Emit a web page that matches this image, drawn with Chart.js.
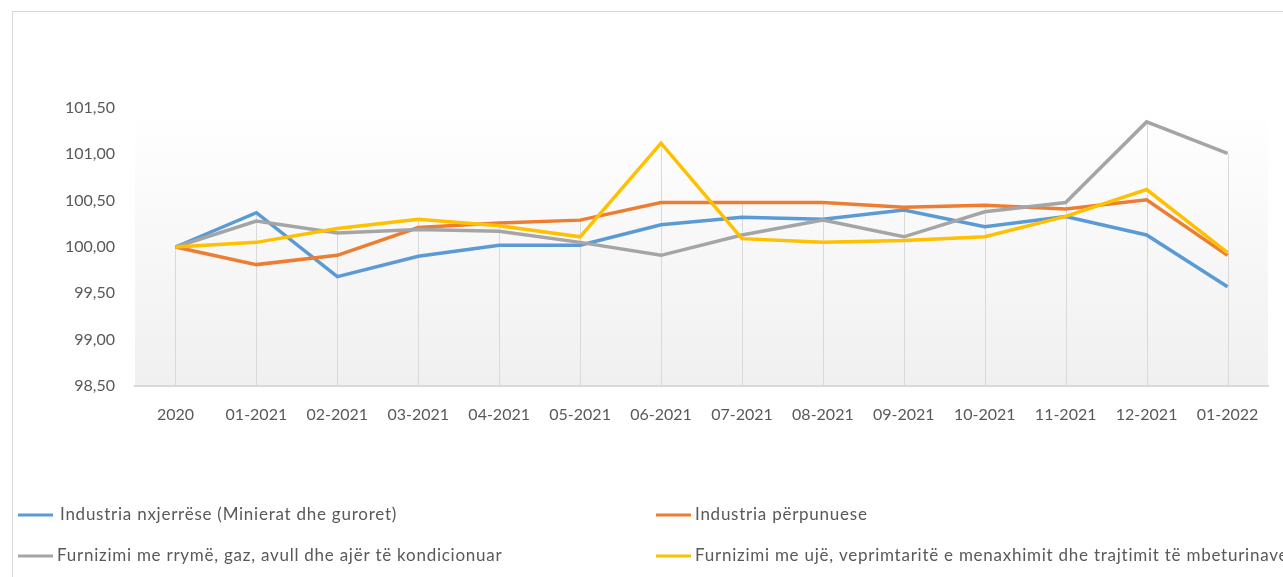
<!DOCTYPE html>
<html>
<head>
<meta charset="utf-8">
<script src="https://cdn.jsdelivr.net/npm/chart.js@4"></script>
<style>
  html, body { margin: 0; padding: 0; background: #fff; }
  #wrap { position: relative; width: 1283px; height: 577px; }
</style>
</head>
<body>
<div id="wrap"><canvas id="indexChart" width="1283" height="577"></canvas></div>
<script>
// Categories (months)
const categories = ['2020', '01-2021', '02-2021', '03-2021', '04-2021', '05-2021', '06-2021',
  '07-2021', '08-2021', '09-2021', '10-2021', '11-2021', '12-2021', '01-2022'];

// Series values
const nxjerrese = [100.00, 100.37, 99.68, 99.90, 100.02, 100.02, 100.24, 100.32, 100.30, 100.40, 100.22, 100.33, 100.13, 99.57];
const perpunuese = [100.00, 99.81, 99.91, 100.21, 100.26, 100.29, 100.48, 100.48, 100.48, 100.43, 100.45, 100.41, 100.51, 99.91];
const rryme = [100.00, 100.28, 100.15, 100.19, 100.17, 100.05, 99.91, 100.13, 100.29, 100.11, 100.38, 100.48, 101.35, 101.01];
const uje = [100.00, 100.05, 100.20, 100.30, 100.23, 100.11, 101.12, 100.09, 100.05, 100.07, 100.11, 100.33, 100.62, 99.94];

const seriesLabels = [
  'Industria nxjerrëse (Minierat dhe guroret)',
  'Industria përpunuese',
  'Furnizimi me rrymë, gaz, avull dhe ajër të kondicionuar',
  'Furnizimi me ujë, veprimtaritë e menaxhimit dhe trajtimit të mbeturinave'
];
const seriesColors = ['#5B9BD5', '#ED7D31', '#A5A5A5', '#FFC000'];

// Y axis ticks
const yMin = 98.5;
const yMax = 101.5;
const yStep = 0.5;

const FONT = 'Lato, "Open Sans", sans-serif';
const TEXT_COLOR = '#595959';

/**
 * Outer border, plot background gradient and drop lines
 */
const backdropPlugin = {
  id: 'backdrop',
  beforeDraw(chart) {
    const { ctx, chartArea } = chart;
    ctx.save();
    ctx.strokeStyle = '#d9d9d9';
    ctx.lineWidth = 1;
    ctx.strokeRect(12.5, 11.5, 1400, 700);

    const grad = ctx.createLinearGradient(0, chartArea.top, 0, chartArea.bottom);
    grad.addColorStop(0, '#ffffff');
    grad.addColorStop(1, '#f0f0f0');
    ctx.fillStyle = grad;
    ctx.fillRect(chartArea.left, chartArea.top, chartArea.right - chartArea.left, chartArea.bottom - chartArea.top);
    ctx.restore();
  },
  beforeDatasetsDraw(chart) {
    const { ctx, scales } = chart;
    const datasets = chart.data.datasets;
    ctx.save();
    ctx.strokeStyle = '#d9d9d9';
    ctx.lineWidth = 1;
    chart.data.labels.forEach((label, i) => {
      const top = Math.max(...datasets.map(ds => ds.data[i]));
      const x = Math.round(scales.x.getPixelForValue(i)) + 0.5;
      ctx.beginPath();
      ctx.moveTo(x, scales.y.getPixelForValue(top));
      ctx.lineTo(x, scales.y.getPixelForValue(yMin));
      ctx.stroke();
    });
    ctx.restore();
  }
};

/**
 * Two-column legend under the chart
 */
const legendPlugin = {
  id: 'gridLegend',
  afterDraw(chart) {
    const { ctx } = chart;
    const cols = [18, 656];
    const rows = [515, 556];
    const gaps = [7, 4, 4, 4];
    ctx.save();
    ctx.font = '17px ' + FONT;
    ctx.letterSpacing = '0.75px';
    ctx.textBaseline = 'middle';
    ctx.fillStyle = TEXT_COLOR;
    chart.data.datasets.forEach((ds, i) => {
      const x = cols[i % 2];
      const y = rows[Math.floor(i / 2)];
      ctx.strokeStyle = ds.borderColor;
      ctx.lineWidth = 3;
      ctx.beginPath();
      ctx.moveTo(x, y);
      ctx.lineTo(x + 35, y);
      ctx.stroke();
      ctx.fillText(ds.label, x + 35 + gaps[i], y);
    });
    ctx.restore();
  }
};

const allSeries = [nxjerrese, perpunuese, rryme, uje];

new Chart(document.getElementById('indexChart'), {
  type: 'line',
  data: {
    labels: categories,
    datasets: allSeries.map((values, i) => ({
      label: seriesLabels[i],
      data: values,
      borderColor: seriesColors[i],
      backgroundColor: seriesColors[i],
      borderWidth: 3.5,
      pointRadius: 0,
      tension: 0,
      order: allSeries.length - 1 - i
    }))
  },
  options: {
    responsive: false,
    animation: false,
    layout: { padding: { top: 108, right: 15, bottom: 0, left: 0 } },
    plugins: {
      legend: { display: false },
      tooltip: { enabled: false }
    },
    scales: {
      x: {
        offset: true,
        grid: { display: false, drawTicks: false },
        border: { display: true, color: '#d9d9d9', width: 2 },
        ticks: { color: TEXT_COLOR, font: { family: FONT, size: 16 }, padding: 19, maxRotation: 0, autoSkip: false },
        afterFit(scale) { scale.height = 191; }
      },
      y: {
        min: yMin,
        max: yMax,
        grid: { display: false, drawTicks: false },
        border: { display: false },
        ticks: {
          stepSize: yStep,
          color: TEXT_COLOR,
          font: { family: FONT, size: 16 },
          padding: 20,
          callback: v => v.toFixed(2).replace('.', ',')
        },
        afterFit(scale) { scale.width = 135; }
      }
    }
  },
  plugins: [backdropPlugin, legendPlugin]
});
</script>
</body>
</html>
